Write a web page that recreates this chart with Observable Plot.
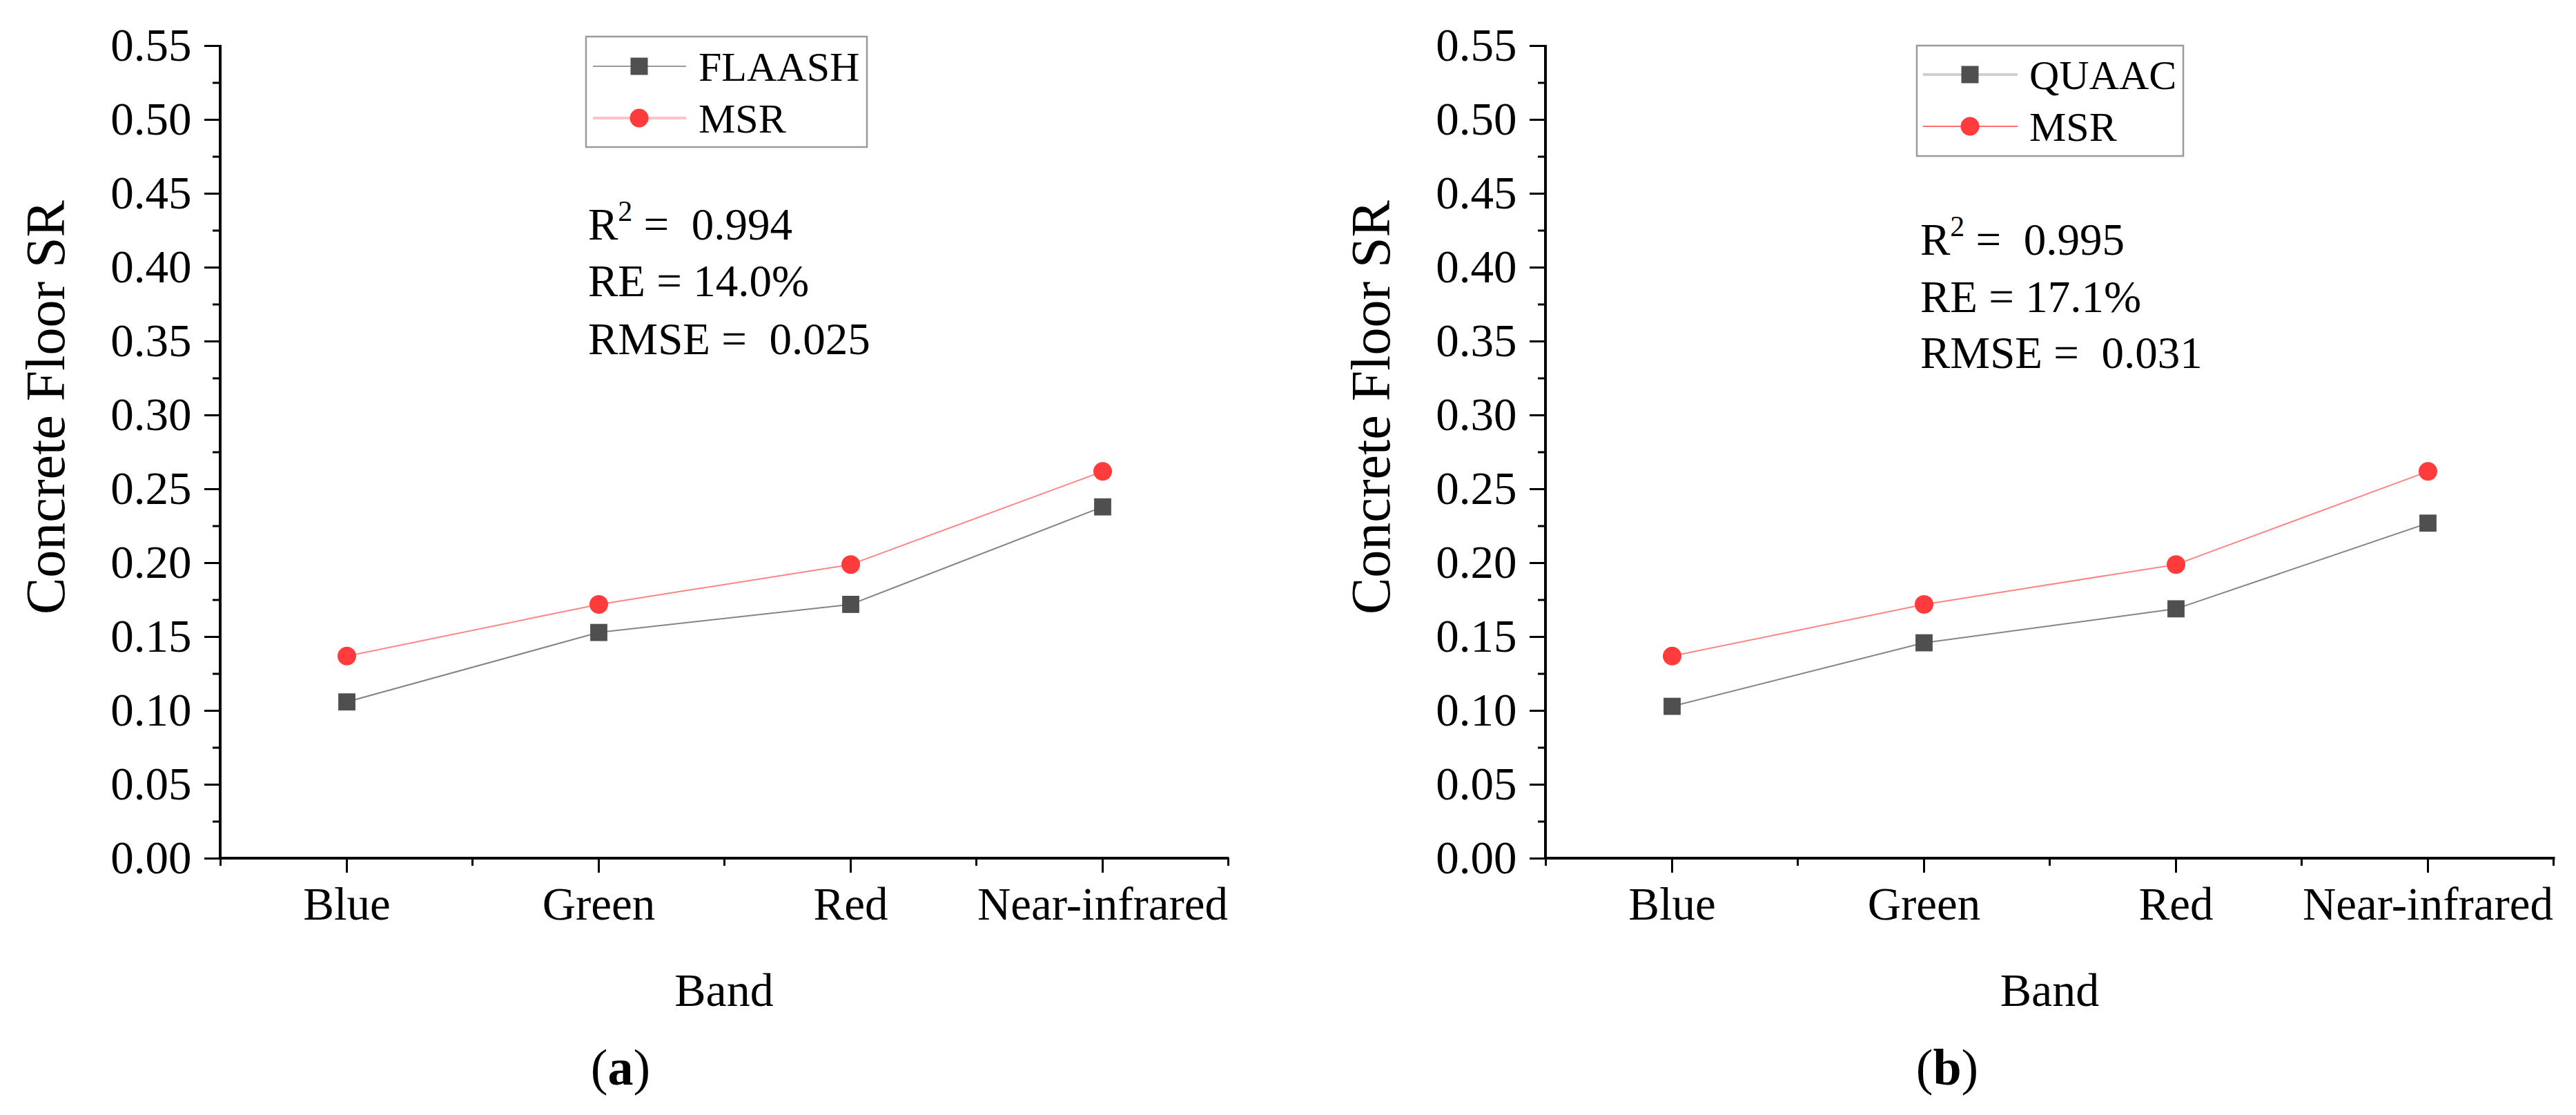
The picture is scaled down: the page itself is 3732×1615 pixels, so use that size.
<!DOCTYPE html>
<html>
<head>
<meta charset="utf-8">
<script src="https://cdn.jsdelivr.net/npm/d3@7"></script>
<script src="https://cdn.jsdelivr.net/npm/@observablehq/plot@0.6"></script>
<style>
  html, body { margin: 0; padding: 0; background: #fff; }
  #wrap { display: flex; width: 3732px; height: 1615px; }
  svg text { white-space: pre; font-family: "Liberation Serif", "Times New Roman", serif !important; }
</style>
</head>
<body>
<div id="wrap"></div>
<script>
// ---- data ----
const bands = ["Blue", "Green", "Red", "Near-infrared"];
const flaashSR = [0.106, 0.153, 0.172, 0.238];
const quaacSR = [0.103, 0.146, 0.169, 0.227];
const msrSR = [0.137, 0.172, 0.199, 0.262];
const yTickValues = [0.00, 0.05, 0.10, 0.15, 0.20, 0.25, 0.30, 0.35, 0.40, 0.45, 0.50, 0.55];
const yMinorValues = [0.025, 0.075, 0.125, 0.175, 0.225, 0.275, 0.325, 0.375, 0.425, 0.475, 0.525];
const methodNames = ["FLAASH", "QUAAC"];
const referenceName = "MSR";
const r2Values = ["0.994", "0.995"];
const reValues = ["14.0%", "17.1%"];
const rmseValues = ["0.025", "0.031"];
const panelLetters = ["a", "b"];
const yLabel = "Concrete Floor SR";
const xLabel = "Band";

// ---- styling / layout ----
const FONT = "'Liberation Serif', 'Times New Roman', serif";
const methodSeries = [flaashSR, quaacSR];
const layouts = [
  {
    marginLeft: 319, marginRight: 87,
    legend: {x: 849, y: 53, w: 407, h: 160, rows: [96, 171], lx1: 859, lx2: 994, mx: 926, tx: 1012},
    legendLines: [{stroke: "#9a9a9a", w: 2}, {stroke: "#ffc2c2", w: 4}],
    stats: {x: 852, base: [347, 429, 513]},
    caption: 899
  },
  {
    marginLeft: 373, marginRight: 32,
    legend: {x: 911, y: 66, w: 386, h: 160, rows: [108, 183], lx1: 920, lx2: 1057, mx: 988, tx: 1074},
    legendLines: [{stroke: "#cfcfcf", w: 4}, {stroke: "#ff7070", w: 2}],
    stats: {x: 916, base: [369, 452, 533]},
    caption: 955
  }
];

function decorations(p, L) {
  return (index, scales, values, dims) => {
    const {width, height, marginLeft, marginRight, marginTop, marginBottom} = dims;
    const x0 = marginLeft, x1 = width - marginRight, y0 = marginTop, y1 = height - marginBottom;
    const g = d3.create("svg:g").attr("font-family", FONT).attr("fill", "#000").attr("text-anchor", "start");
    // axis lines
    g.append("line").attr("x1", x0).attr("x2", x0).attr("y1", y0 - 1).attr("y2", y1 + 2)
      .attr("stroke", "#000").attr("stroke-width", 4);
    g.append("line").attr("x1", x0 - 2).attr("x2", x1 + 1.5).attr("y1", y1).attr("y2", y1)
      .attr("stroke", "#000").attr("stroke-width", 4);
    // x minor ticks between categories (and at both ends)
    const xs = bands.map(b => scales.x(b));
    const step = xs[1] - xs[0];
    const minors = [xs[0] - step / 2, ...xs.map(v => v + step / 2)];
    for (const mxv of minors) {
      g.append("line").attr("x1", mxv).attr("x2", mxv).attr("y1", y1).attr("y2", y1 + 11)
        .attr("stroke", "#000").attr("stroke-width", 3);
    }
    // legend
    const lg = L.legend;
    g.append("rect").attr("x", lg.x).attr("y", lg.y).attr("width", lg.w).attr("height", lg.h)
      .attr("fill", "#fff").attr("stroke", "#9b9b9b").attr("stroke-width", 2.5);
    const names = [methodNames[p], referenceName];
    names.forEach((name, i) => {
      const ry = lg.rows[i];
      g.append("line").attr("x1", lg.lx1).attr("x2", lg.lx2).attr("y1", ry).attr("y2", ry)
        .attr("stroke", L.legendLines[i].stroke).attr("stroke-width", L.legendLines[i].w);
      if (i === 0) {
        g.append("rect").attr("x", lg.mx - 12.5).attr("y", ry - 12.5).attr("width", 25).attr("height", 25)
          .attr("fill", "#4f4f4f");
      } else {
        g.append("circle").attr("cx", lg.mx).attr("cy", ry).attr("r", 13.5).attr("fill", "#ff3b3b");
      }
      g.append("text").attr("x", lg.tx).attr("y", ry + 21).attr("font-size", 60)
        .attr("text-anchor", "start").text(name);
    });
    // statistics
    const st = L.stats;
    const t1 = g.append("text").attr("x", st.x).attr("y", st.base[0]).attr("font-size", 65).attr("text-anchor", "start");
    t1.append("tspan").text("R");
    t1.append("tspan").attr("font-size", 42).attr("dy", -27).text("2");
    t1.append("tspan").attr("dy", 27).text(" =  " + r2Values[p]);
    g.append("text").attr("x", st.x).attr("y", st.base[1]).attr("font-size", 65).attr("text-anchor", "start")
      .text("RE = " + reValues[p]);
    g.append("text").attr("x", st.x).attr("y", st.base[2]).attr("font-size", 65).attr("text-anchor", "start")
      .text("RMSE =  " + rmseValues[p]);
    // y label
    g.append("text").attr("transform", `translate(${x0 - 254},590) rotate(-90)`)
      .attr("text-anchor", "middle").attr("dy", "0.35em").attr("font-size", 80).text(yLabel);
    // x label
    g.append("text").attr("x", (x0 + x1) / 2).attr("y", 1457).attr("text-anchor", "middle")
      .attr("font-size", 68).text(xLabel);
    // caption
    const c = g.append("text").attr("x", L.caption).attr("y", 1571).attr("text-anchor", "middle").attr("font-size", 74);
    c.append("tspan").text("(");
    c.append("tspan").attr("font-weight", "bold").text(panelLetters[p]);
    c.append("tspan").text(")");
    return g.node();
  };
}

function panel(p) {
  const L = layouts[p];
  const methodRows = bands.map((b, i) => ({band: b, value: methodSeries[p][i]}));
  const msrRows = bands.map((b, i) => ({band: b, value: msrSR[i]}));
  return Plot.plot({
    width: 1866,
    height: 1615,
    marginLeft: L.marginLeft,
    marginRight: L.marginRight,
    marginTop: 66,
    marginBottom: 372,
    style: {fontFamily: FONT, fontSize: "67px", color: "#000", background: "#fff"},
    x: {type: "point", domain: bands, padding: 0.5},
    y: {domain: [0, 0.55]},
    marks: [
      Plot.axisY({ticks: yTickValues, tickSize: 23, tickPadding: 19, strokeWidth: 3,
                  tickFormat: d => d.toFixed(2), label: null, fontSize: 67}),
      Plot.axisY({ticks: yMinorValues, tickSize: 11, strokeWidth: 3, tickFormat: () => "", label: null}),
      Plot.axisX({tickSize: 21, tickPadding: 20, strokeWidth: 3, label: null, fontSize: 67}),
      Plot.line(methodRows, {x: "band", y: "value", stroke: "#858585", strokeWidth: 2}),
      Plot.line(msrRows, {x: "band", y: "value", stroke: "#ff8585", strokeWidth: 2}),
      Plot.dot(methodRows, {x: "band", y: "value", symbol: "square", r: 14, fill: "#4f4f4f"}),
      Plot.dot(msrRows, {x: "band", y: "value", symbol: "circle", r: 13.5, fill: "#ff3b3b"}),
      decorations(p, L)
    ]
  });
}

const wrap = document.getElementById("wrap");
wrap.appendChild(panel(0));
wrap.appendChild(panel(1));
</script>
</body>
</html>
